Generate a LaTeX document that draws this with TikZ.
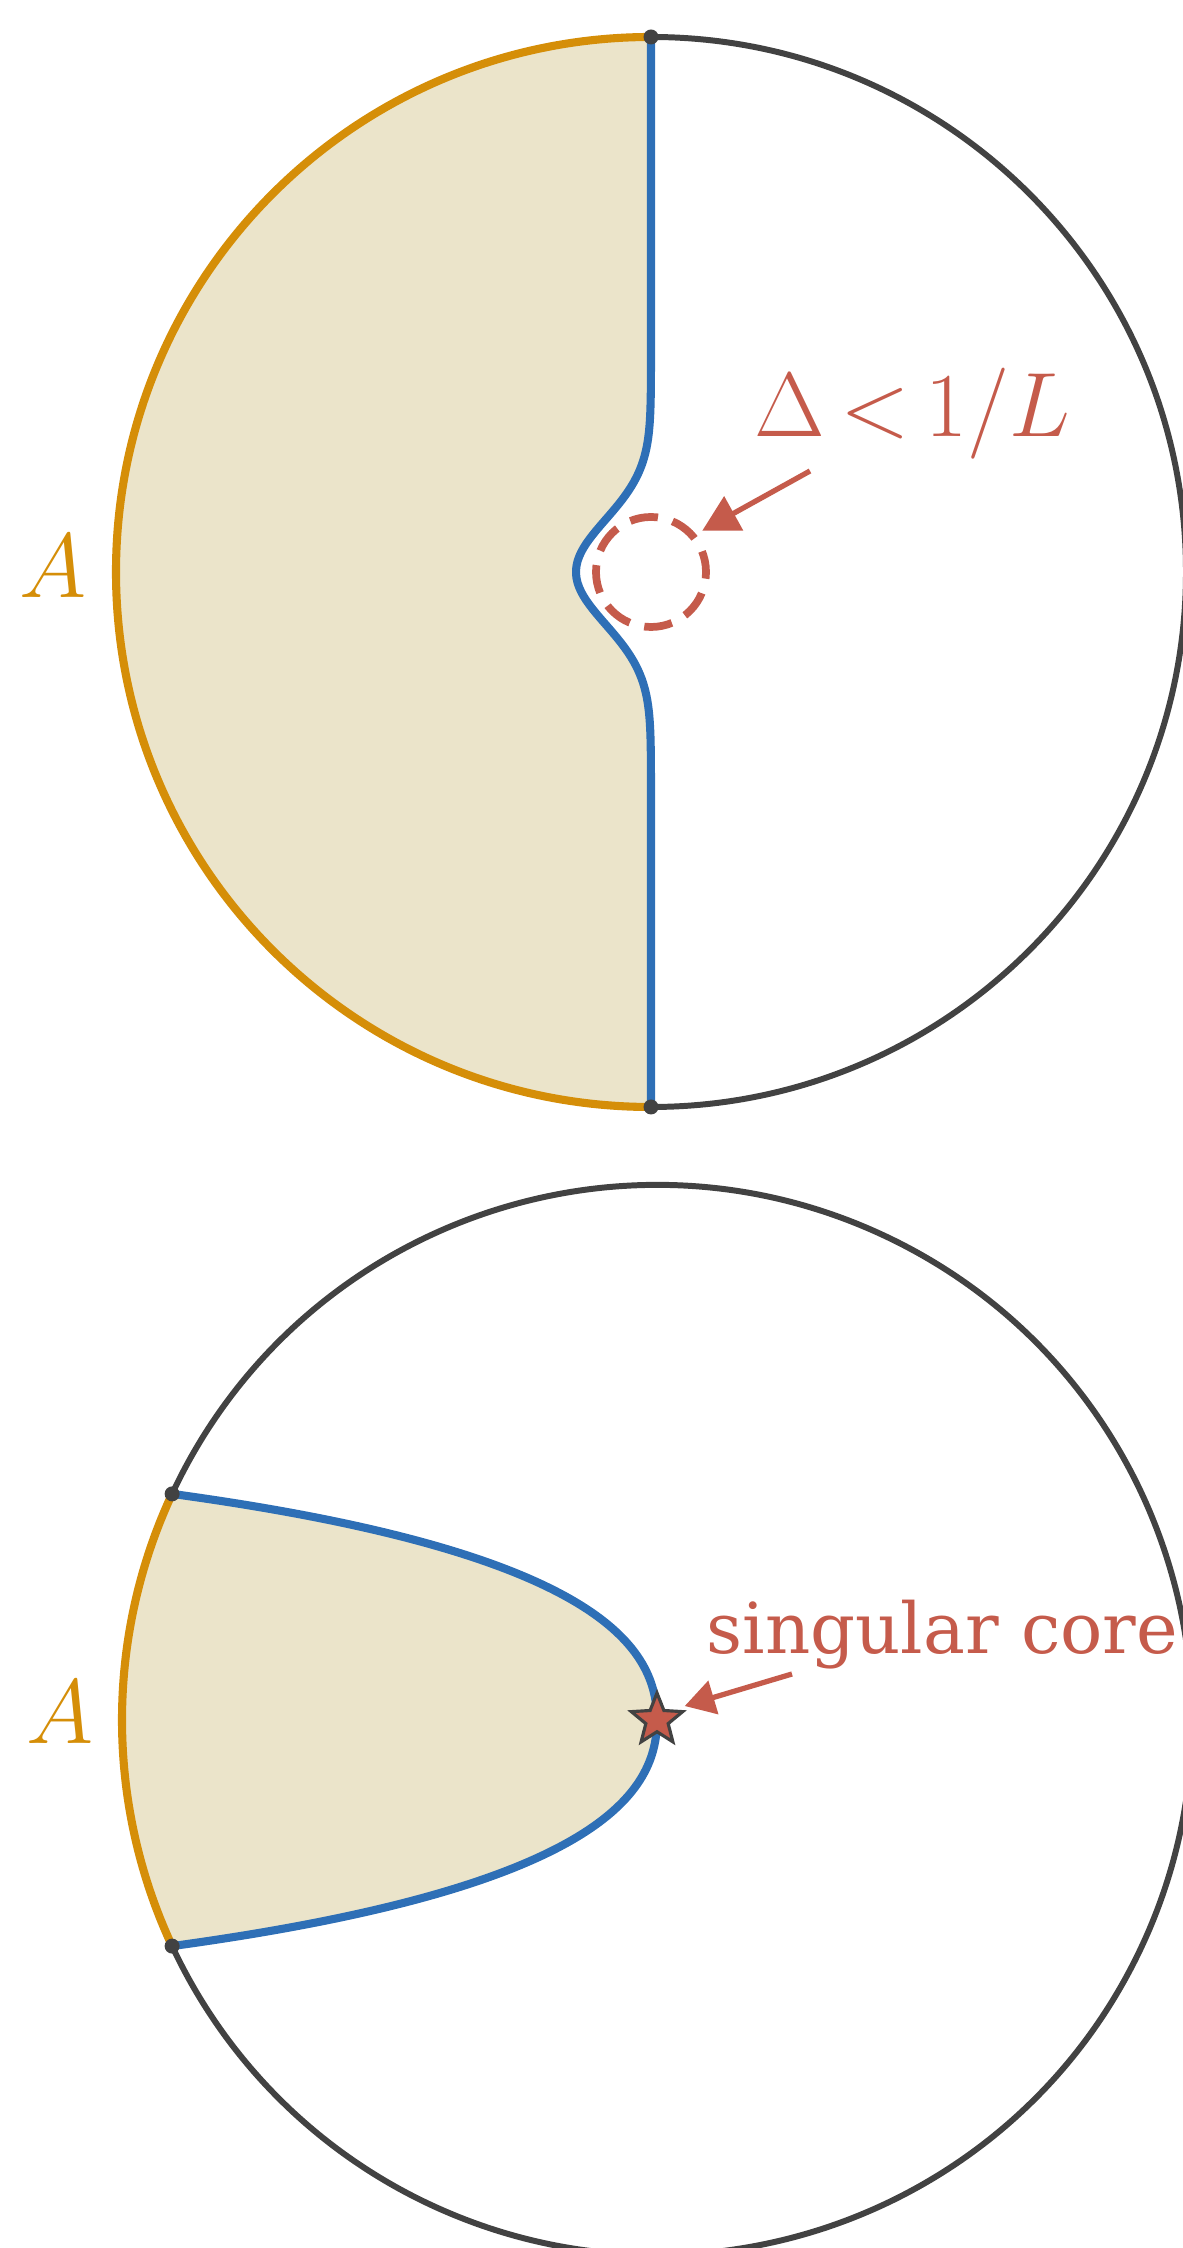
\RequirePackage{fix-cm}
\documentclass[tikz,border=0pt]{standalone}
\usepackage{fontspec}
\newfontfamily\notefont{DejaVu Serif}
\definecolor{rimgray}{RGB}{66,66,66}
\definecolor{regionfill}{RGB}{235,228,202}
\definecolor{regionedge}{RGB}{213,142,8}
\definecolor{cutblue}{RGB}{46,111,182}
\definecolor{notered}{RGB}{197,91,75}
\usetikzlibrary{arrows.meta,shapes.geometric}

\begin{document}
\begin{tikzpicture}[>=Stealth,
    rim/.style={line width=1.7pt,rimgray},
    edgeA/.style={line width=2.3pt,regionedge},
    cut/.style={line width=2.3pt,cutblue},
    endpt/.style={fill=rimgray},
    labelA/.style={text=regionedge,inner sep=0pt,font=\fontsize{26}{30}\selectfont},
    note/.style={text=notered,inner sep=0pt},
    pointer/.style={line width=1.5pt,notered},
    gapring/.style={circle,draw=notered,line width=2.2pt,dash pattern=on 8pt off 4.3pt,
                    dash phase=2pt,minimum size=1.1cm,inner sep=0pt},
    corestar/.style={star,star points=5,star point ratio=2.3,fill=notered,draw=rimgray,
                     line width=0.9pt,minimum size=0.54cm,inner sep=0pt}]
  \useasboundingbox (0,0) rectangle (11.82,22.48);
  \coordinate (c1) at (6.51,16.76);
  \coordinate (c2) at (6.57,5.28);

  %% upper disc: region A cut off by an almost straight line
  \fill[regionfill] (c1) ++(90:5.35) arc[start angle=90,end angle=270,radius=5.35]
    -- (6.51,14.16)
    -- plot[domain=-2.6:2.6,samples=120] ({6.51-0.75*exp(-(\x)*(\x)/0.5476)},{16.76+\x})
    -- cycle;
  \draw[rim] (c1) ++(90:5.35) arc[start angle=90,end angle=-90,radius=5.35];
  \draw[edgeA] (c1) ++(90:5.35) arc[start angle=90,end angle=270,radius=5.35];
  \draw[cut] (6.51,22.11) -- (6.51,19.36)
    -- plot[domain=2.6:-2.6,samples=120] ({6.51-0.75*exp(-(\x)*(\x)/0.5476)},{16.76+\x})
    -- (6.51,11.41);
  \fill[endpt] (6.51,22.11) circle (0.075);
  \fill[endpt] (6.51,11.41) circle (0.075);

  \node[labelA] (A1) at (0.53,16.82) {$A$};
  \node[gapring] (gap) at (c1) {};
  \node[note,anchor=base west,font=\fontsize{26}{30}\selectfont] (gaplabel) at (7.54,18.11)
    {$\Delta\mskip3mu{<}\mskip3mu1/L$};
  \coordinate (gaptail) at (8.10,17.77);
  \draw[pointer,-{Triangle[length=0.36cm,width=0.38cm]},shorten >=0.07cm] (gaptail) -- (gap.40);

  %% lower disc: the surface pinches at the core
  \path (c2) ++(155:5.35) coordinate (p1);
  \path (c2) ++(205:5.35) coordinate (p2);
  \fill[regionfill] (p1) .. controls (6.05,6.95) and (6.57,5.98) .. (c2)
    .. controls (6.57,4.58) and (6.05,3.61) .. (p2)
    arc[start angle=205,end angle=155,radius=5.35] -- cycle;
  \draw[rim] (p1) arc[start angle=155,end angle=-155,radius=5.35];
  \draw[edgeA] (p1) arc[start angle=155,end angle=205,radius=5.35];
  \draw[cut] (p1) .. controls (6.05,6.95) and (6.57,5.98) .. (c2)
    .. controls (6.57,4.58) and (6.05,3.61) .. (p2);
  \fill[endpt] (p1) circle (0.075);
  \fill[endpt] (p2) circle (0.075);

  \node[labelA] (A2) at (0.60,5.36) {$A$};
  \node[corestar] (core) at (c2) {};
  \node[note,anchor=base west,font=\notefont\fontsize{20}{24}\selectfont] (corelabel) at (7.06,5.94)
    {singular core};
  \coordinate (coretail) at (7.92,5.74);
  \draw[pointer,-{Triangle[length=0.30cm,width=0.34cm]},shorten >=0.12cm] (coretail) -- (core.33);
\end{tikzpicture}
\end{document}
